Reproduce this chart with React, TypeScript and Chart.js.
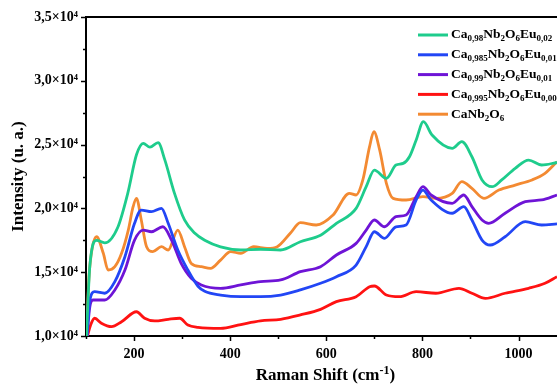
import { useEffect, useRef } from 'react';
import { Chart, registerables } from 'chart.js';

Chart.register(...registerables);

const FONT = "'Liberation Serif', 'Times New Roman', serif";

const seriesLabels = [
  'Ca_{0,98}Nb_{2}O_{6}Eu_{0,02}',
  'Ca_{0,985}Nb_{2}O_{6}Eu_{0,015}',
  'Ca_{0,99}Nb_{2}O_{6}Eu_{0,01}',
  'Ca_{0,995}Nb_{2}O_{6}Eu_{0,005}',
  'CaNb_{2}O_{6}',
];
const seriesColors = ['#1ECC8C', '#2246F5', '#6E14D6', '#FF1212', '#F38A32'];

const eu002X = [101, 108, 122, 139, 166, 187, 205, 219, 233, 250, 264, 284, 305, 326, 347, 380, 422, 463, 505, 546, 588, 621, 662, 683, 700, 725, 745, 760, 773, 787, 802, 820, 862, 882, 903, 924, 945, 965, 993, 1021, 1048, 1080];
const eu002Y = [10000, 15500, 17500, 17300, 18500, 21200, 24200, 25100, 24800, 25150, 23800, 21200, 19100, 18070, 17500, 16980, 16740, 16800, 16740, 17390, 17900, 18830, 20000, 21700, 23000, 22360, 23400, 23530, 24050, 25360, 26800, 25750, 24710, 25230, 24050, 22230, 21700, 22230, 23140, 23790, 23400, 23600];

const eu0015X = [102, 108, 118, 139, 160, 181, 201, 215, 236, 257, 271, 291, 312, 333, 347, 380, 422, 463, 505, 546, 588, 621, 662, 683, 700, 721, 745, 766, 787, 801, 818, 862, 886, 903, 924, 941, 972, 1014, 1048, 1080];
const eu0015Y = [10000, 12800, 13470, 13350, 14260, 16210, 18830, 19870, 19740, 20000, 18830, 16740, 15170, 13900, 13500, 13210, 13080, 13080, 13210, 13610, 14130, 14650, 15560, 17000, 18170, 17650, 18560, 18700, 20660, 21440, 20660, 19620, 20140, 19090, 17520, 17130, 17780, 18960, 18700, 18780];

const eu001X = [102, 108, 115, 139, 160, 181, 201, 219, 236, 260, 278, 298, 319, 340, 380, 422, 463, 505, 546, 588, 621, 662, 683, 700, 721, 745, 766, 787, 801, 818, 862, 886, 903, 924, 938, 972, 1014, 1048, 1080];
const eu001Y = [10000, 12300, 12820, 12820, 13610, 15170, 17520, 18300, 18170, 18560, 17520, 15690, 14520, 14000, 13740, 14000, 14260, 14390, 15040, 15430, 16350, 17260, 18300, 19090, 18560, 19350, 19480, 20920, 21700, 21050, 20400, 21050, 20140, 19090, 18830, 19620, 20530, 20660, 21050];

const eu0005X = [103, 110, 118, 132, 153, 174, 205, 222, 243, 271, 295, 312, 333, 380, 422, 463, 505, 546, 588, 621, 662, 690, 700, 725, 752, 787, 828, 876, 903, 931, 972, 1021, 1055, 1080];
const eu0005Y = [10000, 10900, 11390, 11000, 10730, 11120, 11900, 11390, 11180, 11310, 11390, 10860, 10680, 10600, 10900, 11180, 11310, 11650, 12090, 12690, 13080, 13860, 13920, 13210, 13080, 13470, 13350, 13740, 13350, 12950, 13350, 13740, 14130, 14650];

const pureX = [101, 106, 113, 122, 136, 146, 160, 174, 188, 198, 205, 215, 226, 239, 257, 271, 291, 305, 319, 340, 359, 380, 401, 422, 449, 477, 498, 525, 546, 579, 614, 648, 662, 676, 690, 699, 711, 725, 739, 766, 801, 828, 862, 882, 903, 928, 959, 993, 1028, 1055, 1080];
const pureY = [10000, 14500, 16900, 17780, 16480, 15170, 15430, 16480, 18300, 20130, 20790, 19090, 17000, 16610, 17000, 16740, 18300, 17000, 15690, 15430, 15300, 15950, 16610, 16480, 17000, 16870, 17000, 18050, 18880, 18700, 19480, 21180, 21050, 22230, 24840, 26010, 24580, 21970, 20790, 20660, 20920, 20790, 21180, 22100, 21570, 20790, 21440, 21830, 22230, 22750, 23660];

const seriesX = [eu002X, eu0015X, eu001X, eu0005X, pureX];
const seriesY = [eu002Y, eu0015Y, eu001Y, eu0005Y, pureY];

const xTickValues = [200, 400, 600, 800, 1000];
const xTickLabels = ['200', '400', '600', '800', '1000'];
const yTickValues = [10000, 15000, 20000, 25000, 30000, 35000];
const yTickLabels = ['1,0×10⁴', '1,5×10⁴', '2,0×10⁴', '2,5×10⁴', '3,0×10⁴', '3,5×10⁴'];
const xTitle = 'Raman Shift (cm^{-1})';
const yTitle = 'Intensity (u. a.)';

function drawRich(ctx: CanvasRenderingContext2D, text: string, x: number, y: number, size: number) {
  const parts = text.split(/(_\{[^}]*\}|\^\{[^}]*\})/).filter(Boolean);
  let cx = x;
  for (const p of parts) {
    const sub = p.startsWith('_{');
    const sup = p.startsWith('^{');
    const s = sub || sup ? p.slice(2, -1) : p;
    const fs = sub || sup ? Math.round(size * 0.68) : size;
    ctx.font = `bold ${fs}px ${FONT}`;
    const dy = sub ? size * 0.3 : sup ? -size * 0.3 : 0;
    ctx.fillText(s, cx, y + dy);
    cx += ctx.measureText(s).width;
  }
  return cx - x;
}

function measureRich(ctx: CanvasRenderingContext2D, text: string, size: number) {
  const parts = text.split(/(_\{[^}]*\}|\^\{[^}]*\})/).filter(Boolean);
  let w = 0;
  for (const p of parts) {
    const small = p.startsWith('_{') || p.startsWith('^{');
    const s = small ? p.slice(2, -1) : p;
    ctx.font = `bold ${small ? Math.round(size * 0.68) : size}px ${FONT}`;
    w += ctx.measureText(s).width;
  }
  return w;
}

const decorPlugin = {
  id: 'decor',
  afterDraw(chart: any) {
    const ctx: CanvasRenderingContext2D = chart.ctx;
    const { left, right, top, bottom } = chart.chartArea;
    const xs = chart.scales.x;
    const ys = chart.scales.y;
    ctx.save();
    ctx.strokeStyle = '#000';
    ctx.lineWidth = 2;
    ctx.beginPath();
    ctx.moveTo(left - 1, top);
    ctx.lineTo(right, top);
    ctx.stroke();
    for (let v = 100; v <= 1000; v += 100) {
      const px = Math.round(xs.getPixelForValue(v)) + 0.5;
      const len = v % 200 === 0 ? 5 : 3;
      ctx.lineWidth = 1.5;
      ctx.beginPath();
      ctx.moveTo(px, bottom);
      ctx.lineTo(px, bottom + len);
      ctx.stroke();
    }
    for (let v = 10000; v <= 35000; v += 2500) {
      const py = Math.round(ys.getPixelForValue(v)) + 0.5;
      const len = v % 5000 === 0 ? 5 : 3;
      ctx.lineWidth = 1.5;
      ctx.beginPath();
      ctx.moveTo(left, py);
      ctx.lineTo(left - len, py);
      ctx.stroke();
    }
    ctx.fillStyle = '#000';
    ctx.textBaseline = 'middle';
    ctx.textAlign = 'left';
    const tw = measureRich(ctx, xTitle, 17);
    drawRich(ctx, xTitle, (left + right) / 2 + 4 - tw / 2, 376, 17);
    ctx.save();
    ctx.translate(19, (top + bottom) / 2);
    ctx.rotate(-Math.PI / 2);
    ctx.textAlign = 'center';
    ctx.font = `bold 17px ${FONT}`;
    ctx.fillText(yTitle, 0, 0);
    ctx.restore();
    const lx0 = 418;
    const lx1 = 448;
    const ly0 = 35;
    const dyL = 19.8;
    seriesLabels.forEach((lab, i) => {
      const y = ly0 + i * dyL;
      ctx.strokeStyle = seriesColors[i];
      ctx.lineWidth = 3;
      ctx.beginPath();
      ctx.moveTo(lx0, y);
      ctx.lineTo(lx1, y);
      ctx.stroke();
      ctx.fillStyle = '#000';
      ctx.textAlign = 'left';
      ctx.textBaseline = 'middle';
      drawRich(ctx, lab, 451, y, 13.5);
    });
    ctx.restore();
  },
};

export default function App() {
  const ref = useRef<HTMLCanvasElement | null>(null);
  useEffect(() => {
    document.body.style.margin = '0';
    if (!ref.current) return;
    const datasets = seriesLabels.map((lab, i) => ({
      label: lab,
      data: seriesX[i].map((x, j) => ({ x, y: seriesY[i][j] })),
      borderColor: seriesColors[i],
      backgroundColor: seriesColors[i],
      borderWidth: 2.8,
      pointRadius: 0,
      fill: false,
      cubicInterpolationMode: 'monotone' as const,
    }));
    const chart = new Chart(ref.current, {
      type: 'line',
      data: { datasets },
      options: {
        animation: false,
        responsive: false,
        layout: { padding: { top: 17, right: 0, left: 0, bottom: 0 } },
        plugins: { legend: { display: false }, tooltip: { enabled: false } },
        scales: {
          x: {
            type: 'linear',
            min: 100,
            max: 1080,
            border: { display: true, width: 2, color: '#000' },
            grid: { display: false, drawTicks: false },
            ticks: {
              stepSize: 100,
              includeBounds: false,
              autoSkip: false,
              maxRotation: 0,
              padding: 10,
              color: '#000',
              font: { family: FONT, size: 14, weight: 'bold' },
              callback: (v: any) => {
                const k = xTickValues.indexOf(Number(v));
                return k >= 0 ? xTickLabels[k] : '';
              },
            },
            afterFit: (s: any) => {
              s.height = 51;
            },
          },
          y: {
            type: 'linear',
            min: 10000,
            max: 35000,
            border: { display: true, width: 2, color: '#000' },
            grid: { display: false, drawTicks: false },
            ticks: {
              stepSize: 2500,
              autoSkip: false,
              padding: 8,
              color: '#000',
              font: { family: FONT, size: 14, weight: 'bold' },
              callback: (v: any) => {
                const k = yTickValues.indexOf(Number(v));
                return k >= 0 ? yTickLabels[k] : '';
              },
            },
            afterFit: (s: any) => {
              s.width = 86;
            },
          },
        },
      },
      plugins: [decorPlugin],
    });
    return () => chart.destroy();
  }, []);
  return (
    <div style={{ width: 557, height: 387, background: '#fff' }}>
      <canvas ref={ref} width={557} height={387} style={{ display: 'block' }} />
    </div>
  );
}
